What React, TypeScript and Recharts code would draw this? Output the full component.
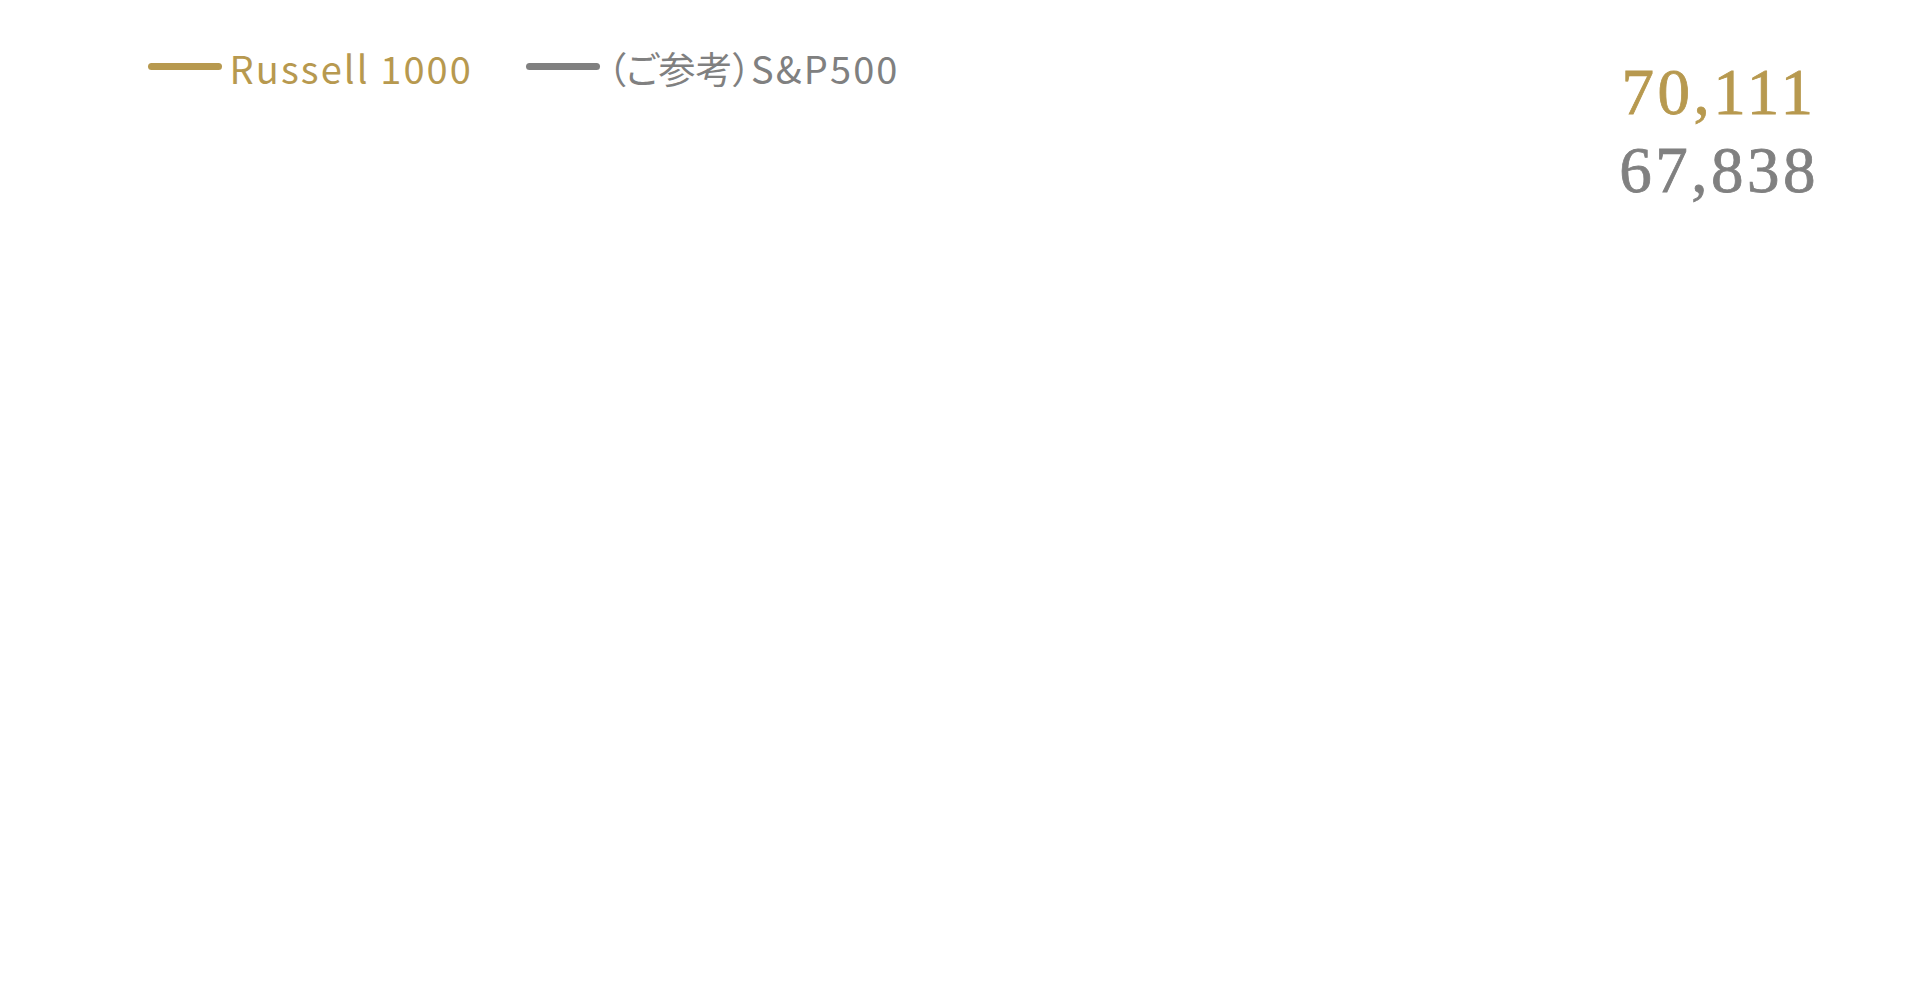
import React from "react";
import { LineChart, Line, XAxis, YAxis, Legend, Customized } from "recharts";

// ---- data ----
const categories: string[] = ["最終"];
const russellValues: number[] = [70111];
const spValues: number[] = [67838];
const seriesNames: string[] = ["Russell 1000", "（ご参考）S&P500"];
const seriesColors: string[] = ["#b7994f", "#808080"];

const data = categories.map((c, i) => ({
  name: c,
  russell: russellValues[i],
  sp: spValues[i],
}));

const W = 1912;
const H = 967;

const sansFont = "'Noto Sans CJK JP', 'Noto Sans', sans-serif";
const serifFont = "'Liberation Serif', 'DejaVu Serif', serif";

// split CJK prefix so it can be set slightly tighter than the Latin part
const renderName = (n: string) => {
  const m = n.match(/^(（.*?）)(.*)$/);
  if (!m) return n;
  return (
    <>
      <span style={{ fontSize: 37, letterSpacing: 0 }}>{m[1]}</span>
      {m[2]}
    </>
  );
};

const LegendContent = () => (
  <div style={{ position: "relative", width: W, height: 100 }}>
    {seriesNames.map((n, i) => {
      const lineX = i === 0 ? 140 : 518;
      return (
        <React.Fragment key={n}>
          <div
            style={{
              position: "absolute",
              left: lineX,
              top: 54.5,
              width: 74,
              height: 7,
              borderRadius: 4,
              background: seriesColors[i],
            }}
          />
          <div
            style={{
              position: "absolute",
              left: lineX + 81.5,
              top: 35,
              fontFamily: sansFont,
              fontSize: 38,
              lineHeight: "50px",
              letterSpacing: 2.1,
              fontFeatureSettings: "'palt'",
              color: seriesColors[i],
              whiteSpace: "nowrap",
            }}
          >
            {renderName(n)}
          </div>
        </React.Fragment>
      );
    })}
  </div>
);

const EndValues = () => {
  const last = data[data.length - 1];
  const vals = [last.russell, last.sp];
  return (
    <g>
      {vals.map((v, i) => (
        <text
          key={i}
          x={1711}
          y={106 + i * 78}
          textAnchor="middle"
          fontFamily={serifFont}
          fontSize={65}
          letterSpacing={3.5}
          fill={seriesColors[i]}
          stroke={seriesColors[i]}
          strokeWidth={0.8}
        >
          {v.toLocaleString("en-US")}
        </text>
      ))}
    </g>
  );
};

export default function App() {
  return (
    <div style={{ width: W, height: H, background: "#fff" }}>
      <LineChart
        width={W}
        height={H}
        data={data}
        margin={{ top: 230, right: 120, bottom: 40, left: 140 }}
      >
        <XAxis dataKey="name" hide />
        <YAxis hide domain={[0, 80000]} />
        <Legend
          verticalAlign="top"
          align="left"
          content={<LegendContent />}
          wrapperStyle={{ top: 0, left: 0, width: W }}
        />
        <Line
          type="linear"
          dataKey="russell"
          name={seriesNames[0]}
          stroke={seriesColors[0]}
          strokeWidth={4}
          dot={false}
          activeDot={false}
          hide
          isAnimationActive={false}
        />
        <Line
          type="linear"
          dataKey="sp"
          name={seriesNames[1]}
          stroke={seriesColors[1]}
          strokeWidth={4}
          dot={false}
          activeDot={false}
          hide
          isAnimationActive={false}
        />
        <Customized component={EndValues} />
      </LineChart>
    </div>
  );
}
